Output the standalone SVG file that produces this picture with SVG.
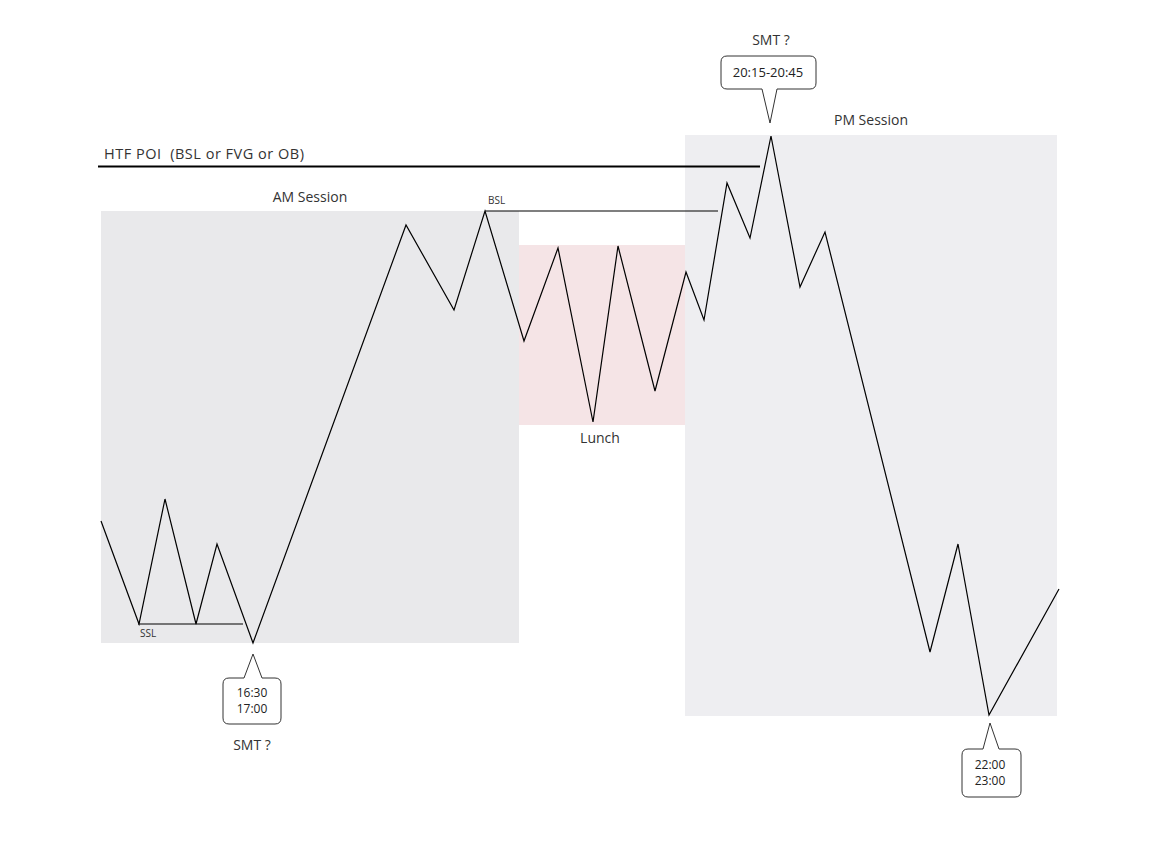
<svg xmlns="http://www.w3.org/2000/svg" width="1157" height="854" viewBox="0 0 1157 854">
<style>
.lbl{font-family:"Open Sans","Liberation Sans",sans-serif;fill:#333333;font-size:14px}
.sm{font-family:"Open Sans","Liberation Sans",sans-serif;fill:#333333;font-size:10px}
.cl{font-family:"Open Sans","Liberation Sans",sans-serif;fill:#222222;font-size:12px;text-anchor:middle}
.call{fill:#ffffff;stroke:#333333;stroke-width:1}
.ln{fill:none;stroke:#000000;stroke-width:1.2}
</style>
<rect width="1157" height="854" fill="#ffffff"/>
<g id="am-session">
<rect x="101" y="211" width="418" height="432" fill="#e9e9eb"/>
<text class="lbl" x="310" y="202" text-anchor="middle">AM Session</text>
</g>
<g id="lunch">
<rect x="519" y="245" width="166" height="180" fill="#f5e4e6"/>
<text class="lbl" x="600" y="443" text-anchor="middle">Lunch</text>
</g>
<g id="pm-session">
<rect x="685" y="135" width="372" height="581" fill="#eeeef1"/>
<text class="lbl" x="871" y="125" text-anchor="middle">PM Session</text>
</g>
<g id="htf-poi">
<line x1="98" y1="166.5" x2="760" y2="166.5" stroke="#000" stroke-width="2"/>
<text class="lbl" x="104" y="159" style="font-size:14.5px" xml:space="preserve" textLength="200" lengthAdjust="spacing">HTF POI  (BSL or FVG or OB)</text>
</g>
<g id="bsl">
<line x1="485" y1="211" x2="718" y2="211" stroke="#000" stroke-width="1.2"/>
<text class="sm" x="488" y="204">BSL</text>
</g>
<g id="ssl">
<line x1="138" y1="624" x2="243" y2="624" stroke="#000" stroke-width="1.2"/>
<text class="sm" x="140" y="637">SSL</text>
</g>
<g id="connectors">
<polyline class="ln" points="101,521 139,624 165,499 196,624 217,544 253,643 406,225 454,310 485,211 524,341 558,248 593,422 618,246 655,391 686,272 704,320 727,183 750,238 771,136 800,287 825,232 930,652 958,544 989,715 1059,589"/>
</g>
<g id="callout-1630">
<path class="call" d="M229,678 L244,678 L253,654 L262,678 L275,678 Q281,678 281,684 L281,718 Q281,724 275,724 L229,724 Q223,724 223,718 L223,684 Q223,678 229,678 Z"/>
<text class="cl" x="252" y="697">16:30</text>
<text class="cl" x="252" y="713">17:00</text>
<text class="lbl" x="252" y="750" text-anchor="middle">SMT ?</text>
</g>
<g id="callout-2015">
<path class="call" d="M727,56 L810,56 Q816,56 816,62 L816,83 Q816,89 810,89 L777,89 L770,123 L762,89 L727,89 Q721,89 721,83 L721,62 Q721,56 727,56 Z"/>
<text class="cl" x="768" y="77" style="font-size:13px">20:15-20:45</text>
<text class="lbl" x="771" y="45" text-anchor="middle">SMT ?</text>
</g>
<g id="callout-2200">
<path class="call" d="M968,749 L983,749 L990,723 L999,749 L1015,749 Q1021,749 1021,755 L1021,791 Q1021,797 1015,797 L968,797 Q962,797 962,791 L962,755 Q962,749 968,749 Z"/>
<text class="cl" x="990" y="769">22:00</text>
<text class="cl" x="990" y="785">23:00</text>
</g>
</svg>
